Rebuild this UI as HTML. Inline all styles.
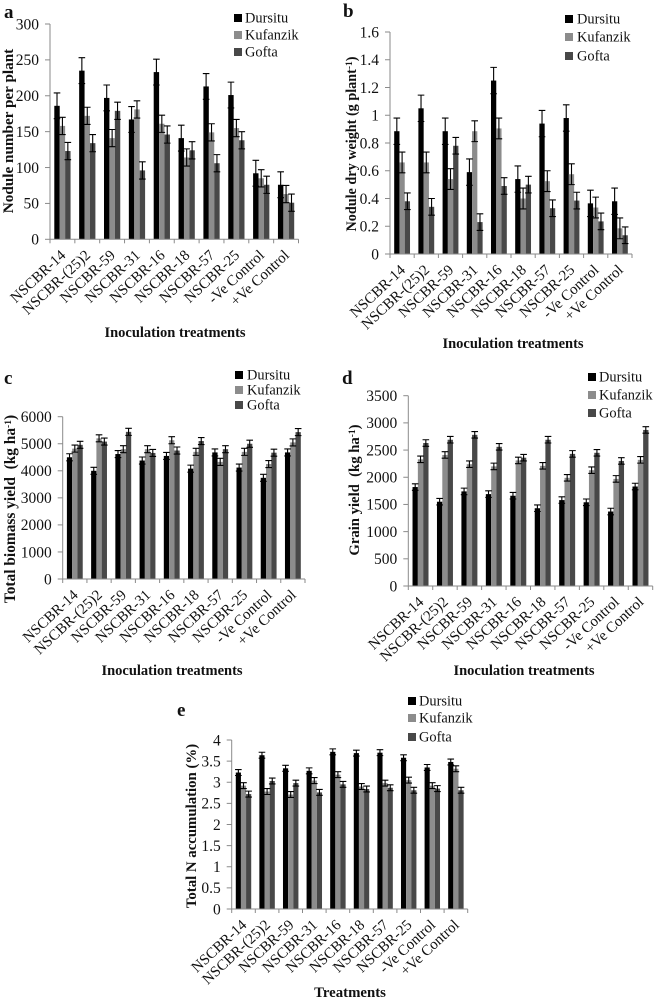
<!DOCTYPE html>
<html lang="en">
<head>
<meta charset="utf-8">
<title>Nodulation and yield charts</title>
<style>
html,body{margin:0;padding:0;background:#fff;width:655px;height:1001px;overflow:hidden}
svg{display:block;filter:blur(.35px)}
text{font-family:"Liberation Serif",serif;fill:#111}
</style>
</head>
<body>
<svg id="figure" width="655" height="1001" viewBox="0 0 655 1001" xmlns="http://www.w3.org/2000/svg"></svg>
<script>
const categories = ["NSCBR-14","NSCBR-(25)2","NSCBR-59","NSCBR-31","NSCBR-16","NSCBR-18","NSCBR-57","NSCBR-25","-Ve Control","+Ve Control"];
const seriesNames = ["Dursitu","Kufanzik","Gofta"];
const seriesColors = ["#000000","#8c8c8c","#484848"];

const aDursitu = [186,235,197,167,233,141,213,201,92,76];
const aKufanzik = [158,172,141,181,161,114,149,155,85,63];
const aGofta = [123,134,179,96,146,124,106,138,76,51];
const aErrors = [18,12,12];
const aTicks = [0,50,100,150,200,250,300];

const bDursitu = [0.885,1.05,0.885,0.59,1.25,0.54,0.94,0.98,0.365,0.38];
const bKufanzik = [0.66,0.66,0.54,0.885,0.905,0.40,0.525,0.575,0.335,0.185];
const bGofta = [0.38,0.34,0.78,0.23,0.49,0.50,0.33,0.385,0.235,0.135];
const bErrors = [0.095,0.075,0.06];
const bTicks = [0,0.2,0.4,0.6,0.8,1,1.2,1.4,1.6];

const cDursitu = [4500,4000,4620,4380,4550,4080,4680,4120,3740,4680];
const cKufanzik = [4820,5200,4800,4800,5130,4700,4330,4700,4250,5050];
const cGofta = [4960,5080,5440,4660,4750,5100,4800,5000,4670,5430];
const cErrors = [130,130,130];
const cTicks = [0,1000,2000,3000,4000,5000,6000];

const dDursitu = [1820,1550,1740,1690,1660,1430,1580,1540,1370,1830];
const dKufanzik = [2330,2410,2240,2200,2310,2210,1990,2130,1970,2320];
const dGofta = [2630,2690,2780,2560,2360,2690,2430,2450,2300,2870];
const dErrors = [60,60,60];
const dTicks = [0,500,1000,1500,2000,2500,3000,3500];

const eDursitu = [3.23,3.64,3.33,3.27,3.72,3.69,3.70,3.58,3.35,3.48];
const eKufanzik = [2.92,2.78,2.71,3.04,3.18,2.90,2.98,3.05,2.92,3.32];
const eGofta = [2.72,3.03,2.98,2.76,2.95,2.84,2.87,2.81,2.85,2.81];
const eErrors = [0.07,0.07,0.07];
const eTicks = [0,0.5,1,1.5,2,2.5,3,3.5,4];

const panels = [
  {id:"a",series:[aDursitu,aKufanzik,aGofta],errors:aErrors,ticks:aTicks,
   left:50,right:298.5,top:24,bottom:239.3,letter:[4,18],
   legendSq:234,legendText:245,legendY:[18,35,52],
   yTitle:["Nodule number per plant",""],yTitleSize:15.2,yTitleX:13,yTitleY:131,
   xTitle:"Inoculation treatments",xTitleSize:14.5,xTitleX:175,xTitleY:337},
  {id:"b",series:[bDursitu,bKufanzik,bGofta],errors:bErrors,ticks:bTicks,
   left:390,right:632,top:32,bottom:254,letter:[343,17],
   legendSq:565,legendText:577,legendY:[19,37,56],
   yTitle:["Nodule dry weight (g plant","-1",")"],yTitleSize:14.2,yTitleX:356,yTitleY:144,
   xTitle:"Inoculation treatments",xTitleSize:14.5,xTitleX:513,xTitleY:348},
  {id:"c",series:[cDursitu,cKufanzik,cGofta],errors:cErrors,ticks:cTicks,
   left:62.7,right:305,top:416.7,bottom:579,letter:[4,384],
   legendSq:235,legendText:247,legendY:[375,390,405],
   yTitle:["Total biomass yield\u00a0\u00a0(kg ha","-1",")"],yTitleSize:15.4,yTitleX:15,yTitleY:509,
   xTitle:"Inoculation treatments",xTitleSize:14.5,xTitleX:172,xTitleY:675},
  {id:"d",series:[dDursitu,dKufanzik,dGofta],errors:dErrors,ticks:dTicks,
   left:408.3,right:652.7,top:395.7,bottom:586,letter:[342,384],
   legendSq:588,legendText:599,legendY:[377,395,413],
   yTitle:["Grain yield\u00a0\u00a0(kg ha","-1",")"],yTitleSize:14.7,yTitleX:359,yTitleY:490,
   xTitle:"Inoculation treatments",xTitleSize:14.5,xTitleX:524,xTitleY:675},
  {id:"e",series:[eDursitu,eKufanzik,eGofta],errors:eErrors,ticks:eTicks,
   left:231.7,right:467.7,top:740,bottom:909,letter:[177,716],
   legendSq:408,legendText:419,legendY:[701,718,737],
   yTitle:["Total N accumulation (%)",""],yTitleSize:14.8,yTitleX:196,yTitleY:826,
   xTitle:"Treatments",xTitleSize:14.8,xTitleX:350,xTitleY:997}
];

const svg = document.getElementById("figure");
const NS = "http://www.w3.org/2000/svg";

function make(parent, tag, attrs, content) {
  const node = document.createElementNS(NS, tag);
  for (const key in attrs) node.setAttribute(key, attrs[key]);
  if (content !== undefined) node.textContent = content;
  parent.appendChild(node);
  return node;
}

function drawPanel(p) {
  const g = make(svg, "g", {});
  
  

  const maxTick = p.ticks[p.ticks.length - 1];
  const yScale = v => p.bottom - (v / maxTick) * (p.bottom - p.top);
  const band = (p.right - p.left) / categories.length;
  const xScale = i => p.left + band * i;
  const barW = band * 0.218;
  const capW = 6.6;

  const letter = make(g, "text", {x:p.letter[0], y:p.letter[1], "font-size":19, "font-weight":"bold"}, p.id);
  
  

  p.series.forEach((values, s) => {
    values.forEach((v, i) => {
      const cx = xScale(i) + band / 2 + (s - 1) * barW;
      const bar = make(g, "rect", {x:cx - barW / 2, y:yScale(v), width:barW, height:p.bottom - yScale(v), fill:seriesColors[s]});
      
      
    });
  });

  p.series.forEach((values, s) => {
    values.forEach((v, i) => {
      const cx = xScale(i) + band / 2 + (s - 1) * barW;
      const hi = yScale(v + p.errors[s]);
      const lo = yScale(v - p.errors[s]);
      const err = make(g, "path", {
        d:"M" + cx + " " + hi + "V" + lo +
          "M" + (cx - capW / 2) + " " + hi + "H" + (cx + capW / 2) +
          "M" + (cx - capW / 2) + " " + lo + "H" + (cx + capW / 2),
        stroke:"#000", "stroke-width":1.1, fill:"none"});
      
      
    });
  });

  const yAxis = make(g, "line", {x1:p.left, x2:p.left, y1:p.top, y2:p.bottom, stroke:"#8a8a8a", "stroke-width":1});
  
  
  const xAxis = make(g, "line", {x1:p.left, x2:p.right, y1:p.bottom, y2:p.bottom, stroke:"#8a8a8a", "stroke-width":1});
  
  

  p.ticks.forEach(t => {
    const y = yScale(t);
    const tick = make(g, "line", {x1:p.left - 5, x2:p.left, y1:y, y2:y, stroke:"#8a8a8a", "stroke-width":1});
    
    
    const label = make(g, "text", {x:p.left - 11, y:y + 5.3, "font-size":15.5, "text-anchor":"end"}, String(t));
    
    
  });

  for (let i = 0; i <= categories.length; i++) {
    const x = xScale(i);
    const tick = make(g, "line", {x1:x, x2:x, y1:p.bottom, y2:p.bottom + 4, stroke:"#8a8a8a", "stroke-width":1});
    
    
  }

  categories.forEach((c, i) => {
    const x = xScale(i) + band / 2 + 4;
    const y = p.bottom + 17;
    const label = make(g, "text", {x:x, y:y, "font-size":15, "text-anchor":"end", transform:"rotate(-43 " + x + " " + y + ")"}, c);
    
    
  });

  seriesNames.forEach((name, s) => {
    const swatch = make(g, "rect", {x:p.legendSq, y:p.legendY[s] - 4, width:8, height:8, fill:seriesColors[s]});
    
    
    const label = make(g, "text", {x:p.legendText, y:p.legendY[s] + 4.5, "font-size":14.4}, name);
    
    
  });

  const yTitle = make(g, "text", {"font-size":p.yTitleSize, "font-weight":"bold", "text-anchor":"middle",
    transform:"translate(" + p.yTitleX + " " + p.yTitleY + ") rotate(-90)"});
  
  
  make(yTitle, "tspan", {}, p.yTitle[0]);
  if (p.yTitle.length > 2) {
    make(yTitle, "tspan", {dy:-4, "font-size":9.5}, p.yTitle[1]);
    make(yTitle, "tspan", {dy:4}, p.yTitle[2]);
  }

  const xTitle = make(g, "text", {x:p.xTitleX, y:p.xTitleY, "font-size":p.xTitleSize, "font-weight":"bold", "text-anchor":"middle"}, p.xTitle);
  
  
}

panels.forEach(drawPanel);
</script>
</body>
</html>
